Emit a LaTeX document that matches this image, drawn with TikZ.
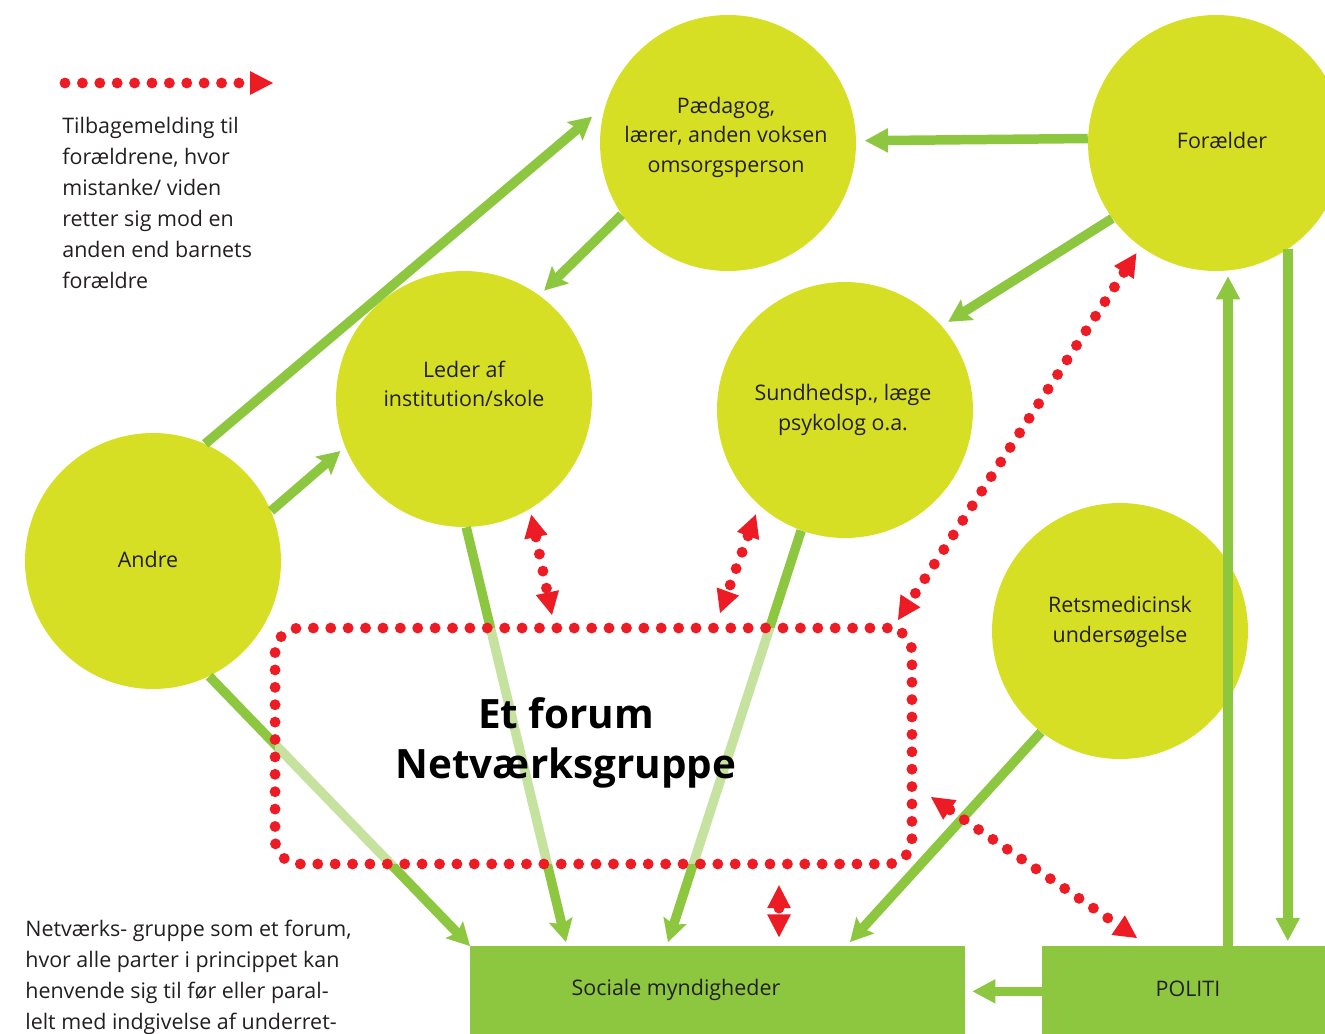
\documentclass[tikz,border=0pt]{standalone}
\usepackage{fontspec}
\setmainfont{Open Sans}
\usetikzlibrary{arrows.meta}
\definecolor{cfill}{HTML}{D6DF23}
\definecolor{gline}{HTML}{8DC63F}
\definecolor{rdot}{HTML}{ED1C24}
\definecolor{txt}{HTML}{231F20}
\begin{document}
\begin{tikzpicture}[x=0.02cm,y=-0.02cm,
 circ/.style={circle,fill=cfill,minimum size=5.12cm,inner sep=0pt},
 box/.style={rectangle,fill=gline,inner sep=0pt,anchor=north west,minimum height=1.8cm},
 lbl/.style={text=txt,font=\fontsize{12.2}{16.8}\selectfont,align=center,inner sep=0pt},
 para/.style={text=txt,font=\fontsize{12.2}{17.6}\selectfont,align=left,inner sep=0pt,anchor=north west},
 garrow/.style={draw=gline,line width=5.4pt,-{Triangle[length=13pt,width=14pt,line width=0pt]}},
 gdiag/.style={draw=gline,line width=5.4pt,-{Stealth[length=13pt,width=14pt,inset=2.5pt,line width=0pt]}},
 rline/.style={draw=rdot,line width=6.2pt,line cap=round,dash pattern=on 0pt off 9.9pt},
 rarrow/.style={rline,{Triangle[length=13pt,width=13.5pt,line width=0pt]}-{Triangle[length=13pt,width=13.5pt,line width=0pt]}},
 forumbox/.style={rectangle,rounded corners=14pt,minimum width=12.74cm,minimum height=4.72cm,inner sep=0pt,
   draw=rdot,line width=6.2pt,line cap=round,dash pattern=on 0pt off 9.9pt,fill=white,fill opacity=0.5},
]
\useasboundingbox (0,0) rectangle (1325,1034);

% circles
\node[circ] (ped) at (728,143) {};
\node[circ] (forael) at (1216,143) {};
\node[circ] (leder) at (464,399) {};
\node[circ] (sundh) at (845,410) {};
\node[circ] (andre) at (153,561) {};
\node[circ] (rets) at (1120,631) {};

% boxes
\node[box,minimum width=9.9cm] (sociale) at (470,946) {};
\node[box,minimum width=5.84cm] (politi) at (1042,946) {};

% free ends
\coordinate (s1) at (566,942);
\coordinate (s2) at (668,942);
\coordinate (s3) at (850,942);

% green arrows
\draw[gdiag,shorten >=9.9pt] (andre.66) -- (ped.163.6);
\draw[gdiag,shorten >=3.5pt] (andre.23) -- (leder.202.5);
\draw[gdiag] (andre.296) -- (sociale.north west);
\draw[gdiag,shorten >=3.8pt] (ped.214) -- (leder.54.6);
\draw[garrow,shorten >=5pt] (forael.178.66) -- (ped.1.34);
\draw[gdiag,shorten >=4.3pt] (forael.216) -- (sundh.41);
\draw[gdiag] (leder.-89) -- (s1);
\draw[gdiag] (sundh.250) -- (s2);
\draw[gdiag] (rets.232) -- (s3);
\coordinate (pu) at (1228,946);
\draw[garrow,shorten >=3pt] (pu) -- (pu |- forael.south);
\draw[garrow,shorten >=3pt] (forael.-56.3) -- (forael.-56.3 |- politi.north);
\draw[garrow,shorten >=4pt] (politi.west) -- (sociale.east);

% forum box (overlay)
\node[forumbox] (forum) at (593.5,746) {};
\node[text=black,font=\bfseries\fontsize{23}{28.5}\selectfont,align=center,inner sep=0pt] (ttl) at (566,743) {Et forum\\Netværksgruppe};

% red arrows
\coordinate (rb) at (552,615);
\coordinate (rc) at (720,613);
\coordinate (rd) at (898,620);
\coordinate (ex) at (779,0);
\coordinate (rf1) at (931,797);
\coordinate (rf2) at (1137,938);
\draw[rarrow,shorten <=3.3pt] (leder.-59.6) -- (rb);
\draw[rarrow,shorten <=5.5pt] (sundh.228.7) -- (rc);
\draw[rarrow,shorten <=4.4pt] (forael.234.8) -- (rd);
\draw[rarrow,shorten <=9pt,shorten >=5pt] (forum.south -| ex) -- (sociale.north -| ex);
\draw[rarrow] (rf1) -- (rf2);

% legend
\coordinate (lg1) at (65,83);
\coordinate (lg2) at (273,83);
\draw[rline,-{Triangle[length=13pt,width=13.5pt,line width=0pt]}] (lg1) -- (lg2);
\node[para] (legend) at (62,117) {Tilbagemelding til\\forældrene, hvor\\mistanke/ viden\\retter sig mod en\\anden end barnets\\forældre};
\node[para] (note) at (25,920) {Netværks- gruppe som et forum,\\hvor alle parter i princippet kan\\henvende sig til før eller paral-\\lelt med indgivelse af underret-};

% labels
\node[lbl] (tped) at (726,137) {Pædagog,\\lærer, anden voksen\\omsorgsperson};
\node[lbl] (tforael) at (1222,140) {Forælder};
\node[lbl] (tleder) at (464,384) {Leder af\\institution/skole};
\node[lbl] (tsundh) at (843,410) {Sundhedsp., læge\\psykolog o.a.};
\node[lbl] (tandre) at (148,559) {Andre};
\node[lbl] (trets) at (1120,622) {Retsmedicinsk\\undersøgelse};
\node[lbl] (tsoc) at (676,990) {Sociale myndigheder};
\node[lbl] (tpol) at (1188,989) {POLITI};
\end{tikzpicture}
\end{document}
